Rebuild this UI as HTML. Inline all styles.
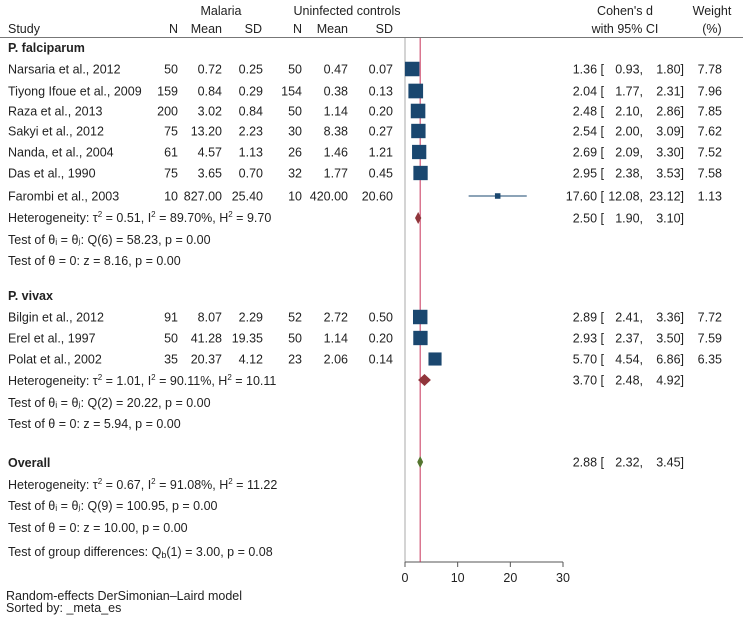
<!DOCTYPE html>
<html><head><meta charset="utf-8"><style>
body{margin:0;background:#fff}
svg text{font-family:"Liberation Sans",Arial,sans-serif;font-size:12.5px;fill:#222}
</style></head><body>
<svg id="c" width="743" height="620" xmlns="http://www.w3.org/2000/svg"></svg>
<script>
const studies=["Narsaria et al., 2012","Tiyong Ifoue et al., 2009","Raza et al., 2013","Sakyi et al., 2012","Nanda, et al., 2004","Das et al., 1990","Farombi et al., 2003","Bilgin et al., 2012","Erel et al., 1997","Polat et al., 2002"];
const rowY=[69,91,111,131,152,173,196,317,338,359];
const nM=[50,159,200,75,61,75,10,91,50,35];
const meanM=["0.72","0.84","3.02","13.20","4.57","3.65","827.00","8.07","41.28","20.37"];
const sdM=["0.25","0.29","0.84","2.23","1.13","0.70","25.40","2.29","19.35","4.12"];
const nC=[50,154,50,30,26,32,10,52,50,23];
const meanC=["0.47","0.38","1.14","8.38","1.46","1.77","420.00","2.72","1.14","2.06"];
const sdC=["0.07","0.13","0.20","0.27","1.21","0.45","20.60","0.50","0.20","0.14"];
const es=[1.36,2.04,2.48,2.54,2.69,2.95,17.60,2.89,2.93,5.70];
const lo=[0.93,1.77,2.10,2.00,2.09,2.38,12.08,2.41,2.37,4.54];
const hi=[1.80,2.31,2.86,3.09,3.30,3.53,23.12,3.36,3.50,6.86];
const wt=[7.78,7.96,7.85,7.62,7.52,7.58,1.13,7.72,7.59,6.35];
const pooledNames=["P. falciparum","P. vivax","Overall"];
const pooledY=[218,380,462];
const pooledEs=[2.50,3.70,2.88];
const pooledLo=[1.90,2.48,2.32];
const pooledHi=[3.10,4.92,3.45];
const pooledCol=["#90353b","#90353b","#55752f"];
const ticks=[0,10,20,30];
const svg=document.getElementById('c');
const NS="http://www.w3.org/2000/svg";
const x0=405,x1=563,xmax=30;
const X=v=>x0+(v/xmax)*(x1-x0);
function el(tag,attrs,txt){const e=document.createElementNS(NS,tag);for(const k in attrs)e.setAttribute(k,attrs[k]);if(txt!==undefined)e.textContent=txt;svg.appendChild(e);return e;}
function t(x,y,s,anchor,name,bold){const e=el('text',{x:x,y:y,'text-anchor':anchor||'start','font-weight':bold?'bold':'normal'},s);

return e;}
const f=v=>v.toFixed(2);
t(221,15,"Malaria","middle","malaria-header");
t(347,15,"Uninfected controls","middle","controls-header");
t(8,33,"Study","start","study-header");
t(178,33,"N","end","n-header");t(222,33,"Mean","end","mean-header");t(262,33,"SD","end","sd-header");
t(302,33,"N","end","n-header");t(348,33,"Mean","end","mean-header");t(393,33,"SD","end","sd-header");
t(625,15,"Cohen's d","middle","cohens-d-header");t(625,33,"with 95% CI","middle","ci-header");
t(712,15,"Weight","middle","weight-header");t(712,33,"(%)","middle","weight-pct-header");
let l=el('line',{x1:0,y1:37.5,x2:743,y2:37.5,stroke:'#777','stroke-width':1});

l=el('line',{x1:x0,y1:38,x2:x0,y2:562,stroke:'#aaa','stroke-width':1});

l=el('line',{x1:x0,y1:562,x2:x1,y2:562,stroke:'#555','stroke-width':1});

ticks.forEach(v=>{el('line',{x1:X(v),y1:562,x2:X(v),y2:567,stroke:'#555'});t(X(v),582,String(v),"middle","x-tick-label");});
l=el('line',{x1:X(pooledEs[2]),y1:38,x2:X(pooledEs[2]),y2:562,stroke:'#c8325a','stroke-width':1});

t(8,52,"P. falciparum","start","group-label",true);
t(8,300,"P. vivax","start","group-label",true);
studies.forEach((s,i)=>{const y=rowY[i],ty=y+4.5;
t(8,ty,s,"start","study-name");
t(178,ty,String(nM[i]),"end","malaria-n");t(222,ty,meanM[i],"end","malaria-mean");t(263,ty,sdM[i],"end","malaria-sd");
t(302,ty,String(nC[i]),"end","control-n");t(348,ty,meanC[i],"end","control-mean");t(393,ty,sdC[i],"end","control-sd");
t(604,ty,f(es[i])+" [","end","effect-size");t(643,ty,f(lo[i])+",","end","ci-lower");t(684,ty,f(hi[i])+"]","end","ci-upper");
t(722,ty,f(wt[i]),"end","weight-value");
const ci=el('line',{x1:X(lo[i]),y1:y,x2:X(hi[i]),y2:y,stroke:'#1a476f','stroke-width':1});

const sz=5.2*Math.sqrt(wt[i]);
const r=el('rect',{x:X(es[i])-sz/2,y:y-sz/2,width:sz,height:sz,fill:'#1a476f'});
});
pooledNames.forEach((n,i)=>{const y=pooledY[i];
const d=el('polygon',{points:`${X(pooledLo[i])},${y} ${X(pooledEs[i])},${y-6} ${X(pooledHi[i])},${y} ${X(pooledEs[i])},${y+6}`,fill:pooledCol[i]});

t(604,y+4.5,f(pooledEs[i])+" [","end","pooled-effect");t(643,y+4.5,f(pooledLo[i])+",","end","pooled-lower");t(684,y+4.5,f(pooledHi[i])+"]","end","pooled-upper");});
t(8,467,"Overall","start","overall-label",true);
function st(y,html,name){const e=el('text',{x:8,y:y});e.innerHTML=html;}
st(222,'Heterogeneity: τ<tspan dy="-5" font-size="8">2</tspan><tspan dy="5"> = 0.51, I</tspan><tspan dy="-5" font-size="8">2</tspan><tspan dy="5"> = 89.70%, H</tspan><tspan dy="-5" font-size="8">2</tspan><tspan dy="5"> = 9.70</tspan>','heterogeneity-falciparum');
st(244,'Test of θᵢ = θⱼ: Q(6) = 58.23, p = 0.00','homogeneity-test-falciparum');
st(265,'Test of θ = 0: z = 8.16, p = 0.00','effect-test-falciparum');
st(385,'Heterogeneity: τ<tspan dy="-5" font-size="8">2</tspan><tspan dy="5"> = 1.01, I</tspan><tspan dy="-5" font-size="8">2</tspan><tspan dy="5"> = 90.11%, H</tspan><tspan dy="-5" font-size="8">2</tspan><tspan dy="5"> = 10.11</tspan>','heterogeneity-vivax');
st(407,'Test of θᵢ = θⱼ: Q(2) = 20.22, p = 0.00','homogeneity-test-vivax');
st(428,'Test of θ = 0: z = 5.94, p = 0.00','effect-test-vivax');
st(489,'Heterogeneity: τ<tspan dy="-5" font-size="8">2</tspan><tspan dy="5"> = 0.67, I</tspan><tspan dy="-5" font-size="8">2</tspan><tspan dy="5"> = 91.08%, H</tspan><tspan dy="-5" font-size="8">2</tspan><tspan dy="5"> = 11.22</tspan>','heterogeneity-overall');
st(510,'Test of θᵢ = θⱼ: Q(9) = 100.95, p = 0.00','homogeneity-test-overall');
st(532,'Test of θ = 0: z = 10.00, p = 0.00','effect-test-overall');
st(556,'Test of group differences: Q<tspan font-size="9" dy="2">b</tspan><tspan dy="-2">(1) = 3.00, p = 0.08</tspan>','group-difference-test');
t(6,600,"Random-effects DerSimonian–Laird model","start","model-note");
t(6,612,"Sorted by: _meta_es","start","sort-note");
</script>
</body></html>
